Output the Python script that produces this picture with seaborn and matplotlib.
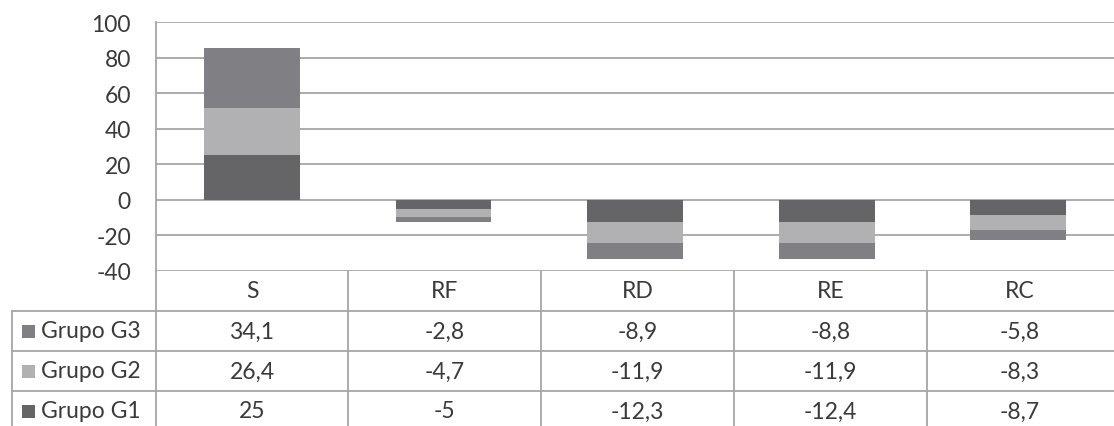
import numpy as np
import pandas as pd
import matplotlib
matplotlib.use("Agg")
import matplotlib.pyplot as plt
import seaborn as sns

categories = ["S", "RF", "RD", "RE", "RC"]
grupo_g1 = [25, -5, -12.3, -12.4, -8.7]
grupo_g2 = [26.4, -4.7, -11.9, -11.9, -8.3]
grupo_g3 = [34.1, -2.8, -8.9, -8.8, -5.8]
series_names = ["Grupo G3", "Grupo G2", "Grupo G1"]
y_ticks = [-40, -20, 0, 20, 40, 60, 80, 100]

colors = {"Grupo G1": "#656567", "Grupo G2": "#b1b1b3", "Grupo G3": "#808084"}
grid_color = "#a6a6a6"
text_color = "#3a3a3a"
FS = 16.5

sns.set_theme(style="white")
plt.rcParams["font.family"] = ["Lato", "DejaVu Sans"]

W, H = 1114, 427
fig = plt.figure(figsize=(W / 100, H / 100), dpi=100)

# plot area in pixel coordinates
left, right, top, bottom = 156, 1114, 23, 272
ax = fig.add_axes([left / W, 1 - bottom / H, (right - left) / W, (bottom - top) / H])

df = pd.DataFrame({"cat": categories, "G1": grupo_g1, "G2": grupo_g2, "G3": grupo_g3})
df["c12"] = df["G1"] + df["G2"]
df["c123"] = df["c12"] + df["G3"]

# stacked bars: draw cumulative totals from outermost to innermost
for col, name in [("c123", "Grupo G3"), ("c12", "Grupo G2"), ("G1", "Grupo G1")]:
    sns.barplot(data=df, x="cat", y=col, color=colors[name], width=0.5,
                saturation=1, ax=ax, linewidth=0, order=categories)

ax.set_ylim(-40, 100)
ax.set_xlim(-0.5, 4.5)
ax.set_yticks(y_ticks)
ax.set_yticklabels([str(t) for t in y_ticks], fontsize=FS, color=text_color)
ax.tick_params(axis="y", length=0, pad=18)
ax.set_xticks([])
ax.set_xlabel("")
ax.set_ylabel("")
for t in y_ticks:
    ax.axhline(t, color=grid_color, lw=1.3, zorder=0)
for s in ["top", "right", "bottom"]:
    ax.spines[s].set_visible(False)
ax.spines["left"].set_color(grid_color)
ax.spines["left"].set_linewidth(1.3)

# data table below the plot, drawn in pixel coordinates
tab = fig.add_axes([0, 0, 1, 1])
tab.set_xlim(0, W)
tab.set_ylim(H, 0)
tab.axis("off")
tab.patch.set_alpha(0)

col_edges = [156, 348, 541, 734, 927, 1120]
row_edges = [272, 312, 352, 392, 432]
lc = grid_color
lw = 1.3
# horizontal lines
tab.plot([12, W], [312, 312], color=lc, lw=lw)
tab.plot([12, W], [352, 352], color=lc, lw=lw)
tab.plot([12, W], [392, 392], color=lc, lw=lw)
# vertical lines
for x in col_edges[:-1]:
    tab.plot([x, x], [272, H], color=lc, lw=lw)
tab.plot([12, 12], [312, H], color=lc, lw=lw)


def col_center(i):
    return (col_edges[i] + col_edges[i + 1]) / 2 if i < 4 else 1020


for i, c in enumerate(categories):
    tab.text(col_center(i), 292, c, ha="center", va="center", fontsize=FS, color=text_color)

values = {"Grupo G3": grupo_g3, "Grupo G2": grupo_g2, "Grupo G1": grupo_g1}
for r, name in enumerate(series_names):
    yc = (row_edges[r + 1] + row_edges[r + 2]) / 2
    tab.add_patch(plt.Rectangle((22, yc - 6.5), 13, 13, color=colors[name], lw=0))
    tab.text(41, yc, name, ha="left", va="center", fontsize=FS, color=text_color)
    for i, v in enumerate(values[name]):
        label = f"{v:g}".replace(".", ",")
        tab.text(col_center(i), yc, label, ha="center", va="center", fontsize=FS, color=text_color)

fig.savefig("out.png", dpi=100, facecolor="white")
